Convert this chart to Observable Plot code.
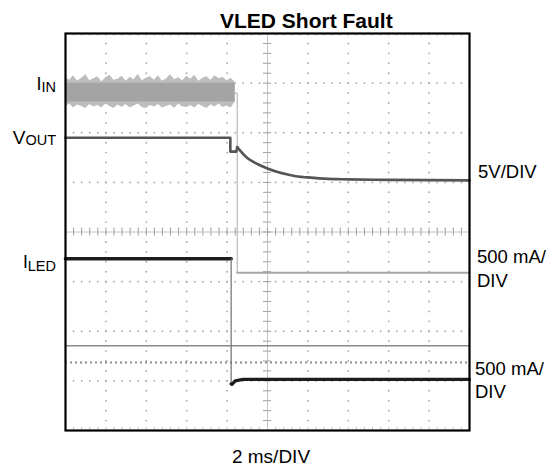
<!DOCTYPE html>
<html>
<head>
<meta charset="utf-8">
<script src="https://cdn.jsdelivr.net/npm/d3@7"></script>
<script src="https://cdn.jsdelivr.net/npm/@observablehq/plot@0.6"></script>
<style>
  html, body { margin: 0; padding: 0; background: #fff; }
  #chart { width: 552px; height: 467px; }
</style>
</head>
<body>
<div id="chart"></div>
<script>
// ---- Data (x in time divisions, 2 ms/DIV; y in vertical divisions) ----
const title = "VLED Short Fault";
const xLabel = "2 ms/DIV";
const rightLabels = [["5V/DIV"], ["500 mA/", "DIV"], ["500 mA/", "DIV"]];

// I_IN noisy band before the fault (top / bottom envelope, one sample per 0.1 div)
const iinTop = [3.12,3.06,3.15,3.04,3.10,3.17,3.05,3.09,3.13,3.03,3.11,3.16,3.06,3.08,3.14,3.04,3.12,3.07,3.18,3.05,3.10,3.13,3.06,3.15,3.04,3.09,3.17,3.07,3.11,3.05,3.14,3.08,3.16,3.04,3.10,3.13,3.06,3.15,3.09,3.12,3.05,3.10,3.02];
const iinBot = [2.52,2.58,2.50,2.56,2.53,2.49,2.57,2.52,2.55,2.50,2.58,2.53,2.49,2.56,2.51,2.57,2.50,2.54,2.58,2.51,2.49,2.55,2.52,2.57,2.50,2.53,2.56,2.49,2.58,2.52,2.51,2.55,2.50,2.57,2.53,2.49,2.56,2.52,2.58,2.51,2.54,2.50,2.62];
// dense core of the I_IN band
const iinCoreHi = 3.00;
const iinCoreLo = 2.62;
// I_IN after the fault (falling edge + flat)
const iinPostT = [4.20, 4.25, 4.25, 10];
const iinPostV = [2.80, 2.80, -0.82, -0.82];

// V_OUT
const voutT = [0, 4.08, 4.08, 4.23, 4.25, 4.5, 4.75, 5.0, 5.25, 5.5, 5.75, 6.0, 6.5, 7.0, 8.0, 10];
const voutV = [1.90, 1.90, 1.62, 1.62, 1.71, 1.49, 1.37, 1.28, 1.21, 1.16, 1.12, 1.10, 1.07, 1.06, 1.05, 1.04];

// I_LED
const iledT = [0, 4.10, 4.10, 4.12, 4.20, 4.40, 10];
const iledV = [-0.54, -0.54, -3.06, -3.07, -3.00, -2.97, -2.97];

// Reference markers
const refSolid = -2.29;
const refDotted = -2.63;

// ---- Derived tables ----
const iinRows = iinTop.map((hi, i) => ({t: i * 0.1, hi, lo: iinBot[i]}));
const pts = (T, V) => T.map((t, i) => ({t, v: V[i]}));
const iinPost = pts(iinPostT, iinPostV);
const vout = pts(voutT, voutV);
const iled = pts(iledT, iledV);

const minorX = d3.range(0, 51).map(i => i / 5);
const minorY = d3.range(0, 41).map(i => -4 + i / 5);
const gridXs = [1, 2, 3, 4, 6, 7, 8, 9];
const gridYs = [-3, -2, -1, 1, 2, 3];
const gridDots = [
  ...gridYs.flatMap(y => minorX.map(x => ({x, y}))),
  ...gridXs.flatMap(x => minorY.map(y => ({x, y})))
];

const plot = Plot.plot({
  width: 552,
  height: 467,
  marginLeft: 65,
  marginRight: 83,
  marginTop: 33,
  marginBottom: 37,
  x: {domain: [0, 10], axis: null},
  y: {domain: [-4, 4], axis: null},
  marks: [
    // graticule
    Plot.dot(gridDots, {x: "x", y: "y", r: 0.95, fill: "#acacac", stroke: null}),
    Plot.ruleX([5], {stroke: "#c4c4c4", strokeWidth: 1}),
    Plot.ruleY([0], {stroke: "#c4c4c4", strokeWidth: 1}),
    Plot.ruleX(minorX, {x: d => d, y1: -0.08, y2: 0.08, stroke: "#a0a0a0", strokeWidth: 1}),
    Plot.ruleY(minorY, {y: d => d, x1: 4.9, x2: 5.1, stroke: "#a0a0a0", strokeWidth: 1}),
    Plot.ruleX(minorX, {x: d => d, y1: -4, y2: -3.94, stroke: "#c8c8c8", strokeWidth: 1}),
    Plot.ruleX(minorX, {x: d => d, y1: 3.94, y2: 4, stroke: "#c8c8c8", strokeWidth: 1}),
    // reference markers
    Plot.ruleY([refSolid], {stroke: "#8a8a8a", strokeWidth: 1.5}),
    Plot.ruleY([refDotted], {stroke: "#8c8c8c", strokeWidth: 2, strokeDasharray: "2,3"}),
    // I_IN
    Plot.areaY(iinRows, {x: "t", y1: "lo", y2: "hi", fill: "#bdbdbd", curve: "linear"}),
    Plot.areaY(iinRows, {x: "t", y1: () => iinCoreLo, y2: () => iinCoreHi, fill: "#a4a4a4"}),
    Plot.line(iinPost.slice(0, 3), {x: "t", y: "v", stroke: "#aaaaaa", strokeWidth: 1}),
    Plot.line(iinPost.slice(2), {x: "t", y: "v", stroke: "#a6a6a6", strokeWidth: 2}),
    // V_OUT
    Plot.line(vout.slice(0, 5), {x: "t", y: "v", stroke: "#555555", strokeWidth: 2.6}),
    Plot.line(vout.slice(4), {x: "t", y: "v", stroke: "#555555", strokeWidth: 2.6, curve: "monotone-x"}),
    // I_LED
    Plot.line(iled.slice(0, 2), {x: "t", y: "v", stroke: "#1c1c1c", strokeWidth: 3.6}),
    Plot.line(iled.slice(1, 3), {x: "t", y: "v", stroke: "#6e6e6e", strokeWidth: 1.2}),
    Plot.line(iled.slice(2), {x: "t", y: "v", stroke: "#1c1c1c", strokeWidth: 3.2}),
    // frame
    Plot.frame({stroke: "#000", strokeWidth: 2.2})
  ]
});

document.getElementById("chart").appendChild(plot);

// ---- Text labels ----
const svg = d3.select(plot);
const FONT = "'Liberation Sans', Arial, Helvetica, sans-serif";

svg.append("text")
  .attr("x", 220).attr("y", 27.7).attr("text-anchor", "start")
  .attr("font-family", FONT).attr("font-size", 21).attr("font-weight", "bold")
  .attr("fill", "#000")
  .text(title);

svg.append("text")
  .attr("x", 271).attr("y", 463.3).attr("text-anchor", "middle")
  .attr("font-family", FONT).attr("font-size", 19).attr("fill", "#000")
  .text(xLabel);

// left channel labels with subscripts
const leftLabels = [
  {main: "I", sub: "IN", y: 89.5, dy: 2.4, mainSize: 18, subSize: 14.5},
  {main: "V", sub: "OUT", y: 144, dy: 1.2, mainSize: 19, subSize: 14.5},
  {main: "I", sub: "LED", y: 268.4, dy: 2.4, mainSize: 17.5, subSize: 14.5}
];
for (const l of leftLabels) {
  const t = svg.append("text")
    .attr("x", 56).attr("y", l.y).attr("text-anchor", "end")
    .attr("font-family", FONT).attr("font-size", l.mainSize).attr("fill", "#000");
  t.append("tspan").text(l.main);
  t.append("tspan").attr("font-size", l.subSize).attr("dy", l.dy).text(l.sub);
}

// right scale labels
const rightPos = [{x: 478, y: 178.3}, {x: 477, y: 263.3}, {x: 475, y: 375}];
rightLabels.forEach((lines, i) => {
  lines.forEach((s, j) => {
    svg.append("text")
      .attr("x", rightPos[i].x).attr("y", rightPos[i].y + j * 23.4)
      .attr("text-anchor", "start")
      .attr("font-family", FONT).attr("font-size", 18.5).attr("fill", "#000")
      .text(s);
  });
});
</script>
</body>
</html>
